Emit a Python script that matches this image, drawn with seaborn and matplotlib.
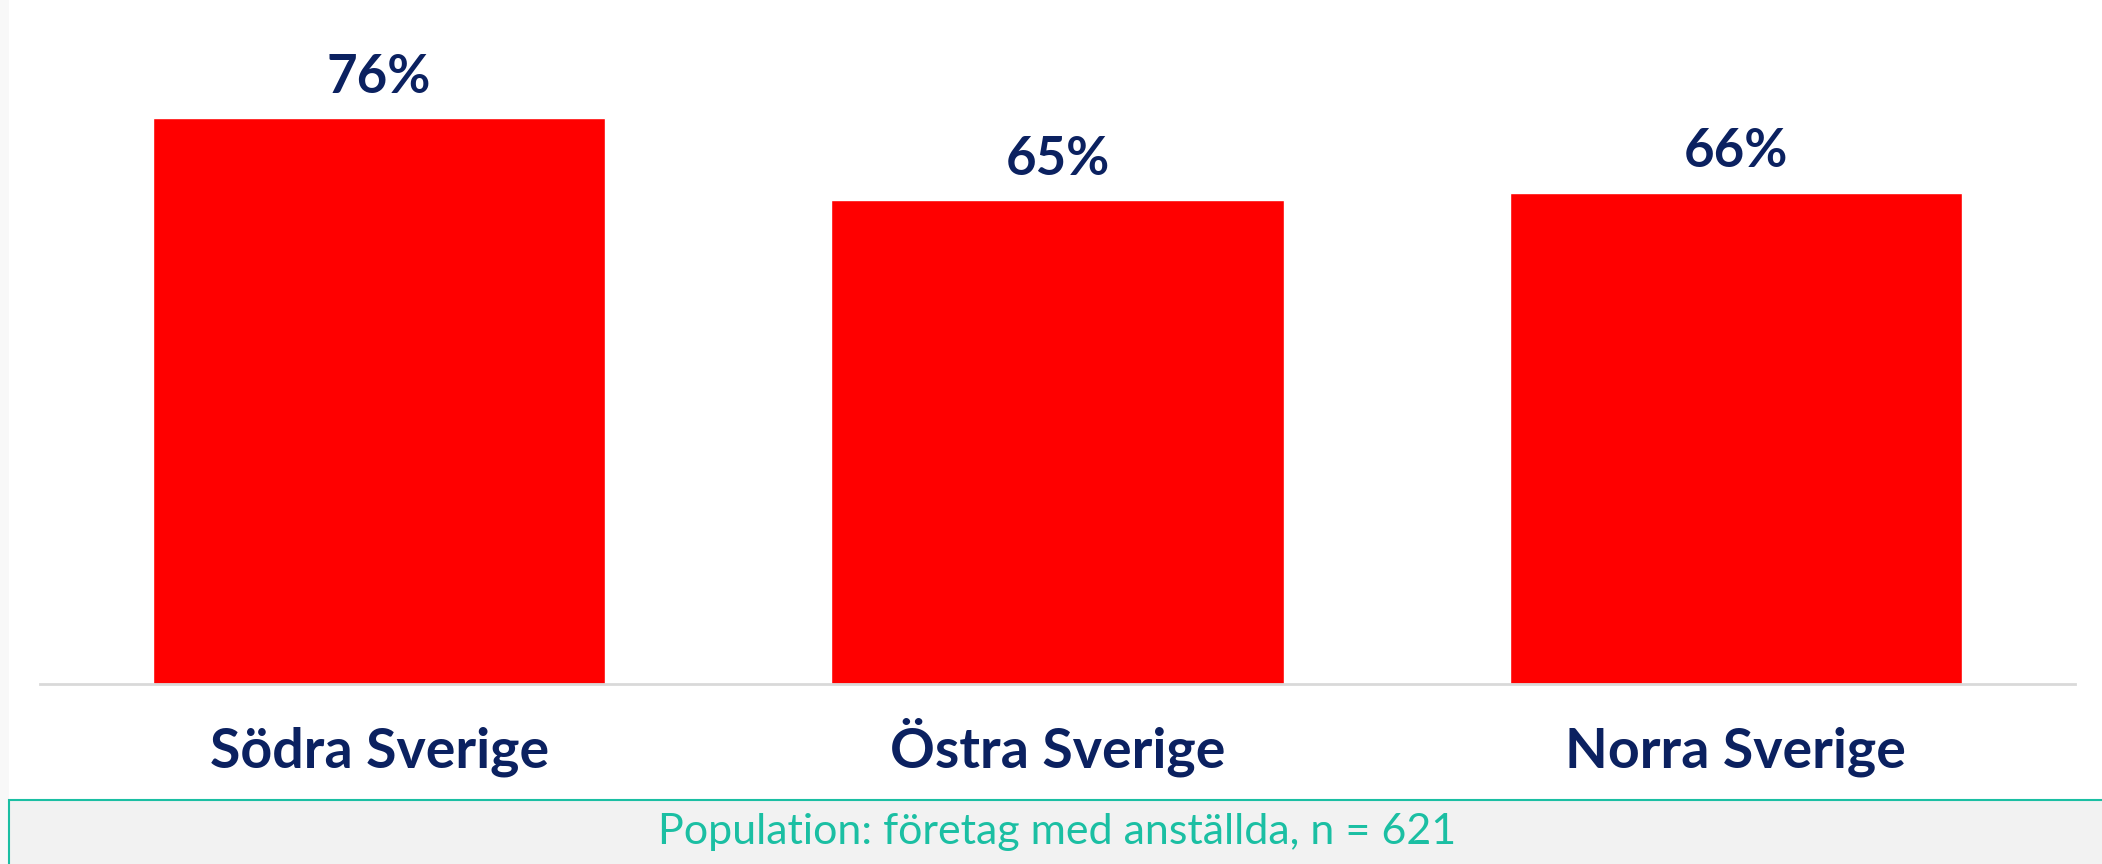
import numpy as np
import pandas as pd
import seaborn as sns
import matplotlib.pyplot as plt
from matplotlib.patches import Rectangle

regions = ['Södra Sverige', 'Östra Sverige', 'Norra Sverige']
shares = [76, 65, 66]
footnote = 'Population: företag med anställda, n = 621'

navy = '#0b2160'
teal = '#1bbfa3'

sns.set_theme(style='white')
plt.rcParams['font.family'] = ['Lato', 'DejaVu Sans']

df = pd.DataFrame({'region': regions, 'share': shares})

W, H = 2102, 864
fig = plt.figure(figsize=(W / 100, H / 100), dpi=100, facecolor='#f8f8f8')

# white panel and grey footer box
fig.patches.append(Rectangle((9 / W, 64 / H), 1, 1, transform=fig.transFigure,
                             facecolor='white', edgecolor='none', zorder=-10))
fig.patches.append(Rectangle((9 / W, -0.01), 1, 64 / H + 0.01, transform=fig.transFigure,
                             facecolor='#f2f2f2', edgecolor=teal, linewidth=1.5, zorder=-10))

ax = fig.add_axes([40 / W, 180 / H, 2035 / W, 672 / H])
ax.set_facecolor('none')
sns.barplot(data=df, x='region', y='share', color='#ff0000', saturation=1,
            width=0.667, ax=ax)
ax.set_xlim(-0.5, 2.5)
ax.set_ylim(0, 90.3)

ax.bar_label(ax.containers[0], labels=[f'{v}%' for v in shares], padding=12,
             fontsize=38, fontweight='bold', color=navy)

sns.despine(ax=ax, left=True)
ax.spines['bottom'].set_color('#d9d9d9')
ax.spines['bottom'].set_linewidth(2)
ax.set_yticks([])
ax.set_xlabel(None)
ax.set_ylabel(None)
ax.tick_params(axis='x', length=0, pad=60)
for lbl in ax.get_xticklabels():
    lbl.set_fontsize(40)
    lbl.set_fontweight('bold')
    lbl.set_color(navy)
    lbl.set_va('baseline')

fig.text(0.503, 32 / H, footnote, ha='center', va='center', fontsize=31,
         color=teal)

fig.savefig('out.png', dpi=100, facecolor=fig.get_facecolor())
